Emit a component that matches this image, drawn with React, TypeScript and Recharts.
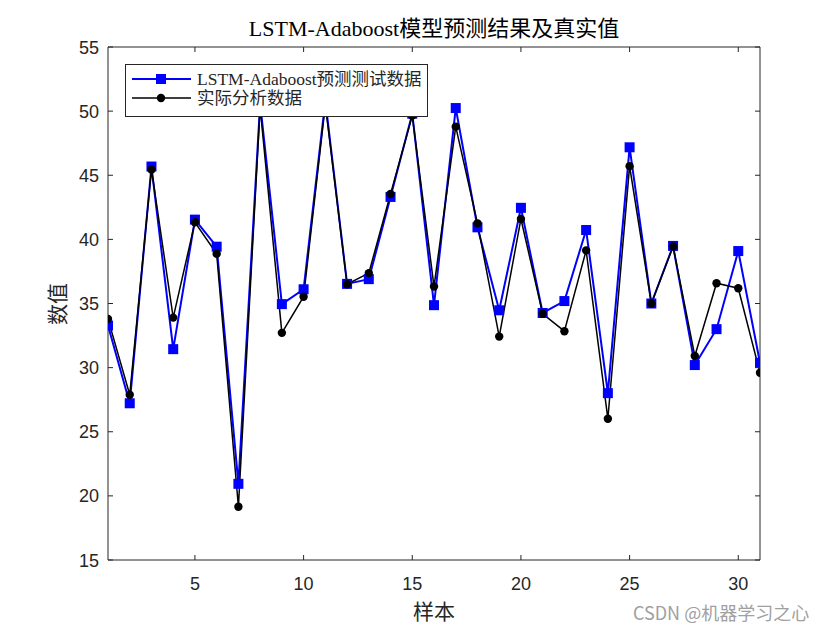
import React from 'react';
import { LineChart, Line, XAxis, YAxis, Legend } from 'recharts';

const samples = [1, 2, 3, 4, 5, 6, 7, 8, 9, 10, 11, 12, 13, 14, 15, 16, 17, 18, 19, 20, 21, 22, 23, 24, 25, 26, 27, 28, 29, 30, 31];
const predicted = [33.28, 27.22, 45.68, 31.44, 41.54, 39.43, 20.94, 50.6, 34.95, 36.11, 50.8, 36.53, 36.9, 43.31, 49.8, 34.87, 50.24, 40.94, 34.47, 42.46, 34.26, 35.19, 40.73, 28.01, 47.18, 35.0, 39.49, 30.2, 33.0, 39.09, 30.38];
const actual = [33.8, 27.88, 45.45, 33.9, 41.33, 38.88, 19.15, 50.3, 32.71, 35.53, 50.5, 36.5, 37.37, 43.54, 49.65, 36.32, 48.79, 41.25, 32.42, 41.59, 34.2, 32.84, 39.14, 26.01, 45.71, 35.0, 39.45, 30.91, 36.58, 36.19, 29.6];
const xTicks = [5, 10, 15, 20, 25, 30];
const yTicks = [15, 20, 25, 30, 35, 40, 45, 50, 55];

const titleText = 'LSTM-Adaboost模型预测结果及真实值';
const xLabel = '样本';
const yLabel = '数值';
const predName = 'LSTM-Adaboost预测测试数据';
const actualName = '实际分析数据';
const watermark = 'CSDN @机器学习之心';

const data = samples.map((s, i) => ({ x: s, pred: predicted[i], act: actual[i] }));

const AXIS = '#262626';
const TICK_FONT = '"Liberation Sans", Arial, sans-serif';
const SERIF = '"Liberation Serif", "Times New Roman", "Noto Sans CJK SC", serif';

const BottomTick = (props: any) => {
  const { x, y, payload } = props;
  return (
    <g>
      <line x1={x} y1={y} x2={x} y2={y - 5} stroke={AXIS} strokeWidth={1} />
      <text x={x} y={y + 30} textAnchor="middle" fontSize={18} fontFamily={TICK_FONT} fill={AXIS}>
        {payload.value}
      </text>
    </g>
  );
};

const TopTick = (props: any) => {
  const { x, y } = props;
  return <line x1={x} y1={y} x2={x} y2={y + 5} stroke={AXIS} strokeWidth={1} />;
};

const LeftTick = (props: any) => {
  const { x, y, payload } = props;
  return (
    <g>
      <line x1={x} y1={y} x2={x + 5} y2={y} stroke={AXIS} strokeWidth={1} />
      <text x={x - 9} y={y + 6.5} textAnchor="end" fontSize={18} fontFamily={TICK_FONT} fill={AXIS}>
        {payload.value}
      </text>
    </g>
  );
};

const RightTick = (props: any) => {
  const { x, y } = props;
  return <line x1={x} y1={y} x2={x - 5} y2={y} stroke={AXIS} strokeWidth={1} />;
};

const SquareDot = (props: any) => {
  const { cx, cy, index } = props;
  if (cx == null || cy == null) return <g key={`s${index}`} />;
  return <rect key={`s${index}`} x={cx - 5} y={cy - 5} width={10} height={10} fill="#0000FF" />;
};

const CircleDot = (props: any) => {
  const { cx, cy, index } = props;
  if (cx == null || cy == null) return <g key={`c${index}`} />;
  return <circle key={`c${index}`} cx={cx} cy={cy} r={4.2} fill="#000000" />;
};

const LegendContent = (props: any) => {
  const payload = props.payload || [];
  return (
    <div
      style={{
        width: 303,
        height: 53,
        boxSizing: 'border-box',
        border: '1px solid #262626',
        background: '#fff',
        position: 'relative',
      }}
    >
      {payload.map((p: any, i: number) => {
        const isPred = p.dataKey === 'pred';
        const top = i === 0 ? 4 : 23;
        return (
          <div key={i} style={{ position: 'absolute', left: 0, top, height: 20, width: 300 }}>
            <svg width={70} height={20} style={{ position: 'absolute', left: 0, top: 0 }}>
              <line x1={6} y1={10} x2={65} y2={10} stroke={isPred ? '#0000FF' : '#000'} strokeWidth={isPred ? 2 : 1.5} />
              {isPred ? <rect x={30} y={5} width={10} height={10} fill="#0000FF" /> : <circle cx={35} cy={10} r={4.2} fill="#000" />}
            </svg>
            <span
              style={{
                position: 'absolute',
                left: 71,
                top: 0,
                lineHeight: '20px',
                fontSize: 17.5,
                fontFamily: SERIF,
                color: '#262626',
                whiteSpace: 'nowrap',
              }}
            >
              {p.value}
            </span>
          </div>
        );
      })}
    </div>
  );
};

export default function App() {
  return (
    <div style={{ position: 'absolute', left: 0, top: 0, width: 840, height: 630, background: '#fff' }}>
      <LineChart
        width={840}
        height={630}
        data={data}
        margin={{ top: 37, right: 70, bottom: 30, left: 48 }}
      >
        <XAxis
          xAxisId="bottom"
          dataKey="x"
          type="number"
          domain={[1, 31]}
          ticks={xTicks}
          orientation="bottom"
          height={40}
          tickLine={false}
          tickSize={0}
          tickMargin={0}
          axisLine={{ stroke: AXIS, strokeWidth: 1 }}
          tick={<BottomTick />}
          allowDataOverflow
        />
        <XAxis
          xAxisId="top"
          dataKey="x"
          type="number"
          domain={[1, 31]}
          ticks={xTicks}
          orientation="top"
          height={10}
          tickLine={false}
          tickSize={0}
          tickMargin={0}
          axisLine={{ stroke: AXIS, strokeWidth: 1 }}
          tick={<TopTick />}
          allowDataOverflow
        />
        <YAxis
          yAxisId="left"
          type="number"
          domain={[15, 55]}
          ticks={yTicks}
          orientation="left"
          width={60}
          tickLine={false}
          tickSize={0}
          tickMargin={0}
          axisLine={{ stroke: AXIS, strokeWidth: 1 }}
          tick={<LeftTick />}
          allowDataOverflow
        />
        <YAxis
          yAxisId="right"
          type="number"
          domain={[15, 55]}
          ticks={yTicks}
          orientation="right"
          width={10}
          tickLine={false}
          tickSize={0}
          tickMargin={0}
          axisLine={{ stroke: AXIS, strokeWidth: 1 }}
          tick={<RightTick />}
          allowDataOverflow
        />
        <Line
          xAxisId="bottom"
          yAxisId="left"
          type="linear"
          dataKey="pred"
          name={predName}
          stroke="#0000FF"
          strokeWidth={2}
          dot={<SquareDot />}
          activeDot={false}
          isAnimationActive={false}
        />
        <Line
          xAxisId="bottom"
          yAxisId="left"
          type="linear"
          dataKey="act"
          name={actualName}
          stroke="#000000"
          strokeWidth={1.5}
          dot={<CircleDot />}
          activeDot={false}
          isAnimationActive={false}
        />
        <Legend
          layout="horizontal"
          verticalAlign="middle"
          align="center"
          content={<LegendContent />}
          wrapperStyle={{ position: 'absolute', left: 125, top: 64, width: 303, height: 53 }}
        />
      </LineChart>
      <div
        style={{
          position: 'absolute',
          left: 0,
          width: 868,
          top: 14,
          textAlign: 'center',
          fontSize: 22,
          lineHeight: '30px',
          fontFamily: SERIF,
          color: '#000',
          whiteSpace: 'nowrap',
        }}
      >
        {titleText}
      </div>
      <div
        style={{
          position: 'absolute',
          left: 0,
          width: 868,
          top: 597,
          textAlign: 'center',
          fontSize: 21,
          lineHeight: '30px',
          fontFamily: SERIF,
          color: '#262626',
        }}
      >
        {xLabel}
      </div>
      <div
        style={{
          position: 'absolute',
          left: 58 - 40,
          top: 304 - 15,
          width: 80,
          height: 30,
          textAlign: 'center',
          fontSize: 21,
          lineHeight: '30px',
          fontFamily: SERIF,
          color: '#262626',
          transform: 'rotate(-90deg)',
        }}
      >
        {yLabel}
      </div>
      <div
        style={{
          position: 'absolute',
          left: 633,
          top: 598,
          fontSize: 18,
          lineHeight: '28px',
          fontFamily: '"Noto Sans CJK SC", sans-serif',
          color: '#a0a0a0',
          whiteSpace: 'nowrap',
        }}
      >
        {watermark}
      </div>
    </div>
  );
}
